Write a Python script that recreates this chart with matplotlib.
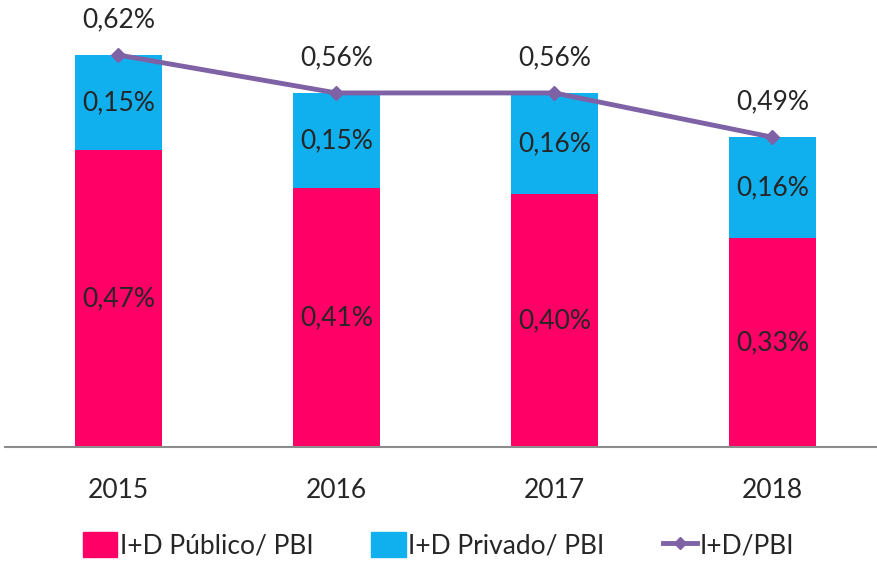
import matplotlib.pyplot as plt
from matplotlib.patches import Patch
from matplotlib.lines import Line2D

plt.rcParams['font.family'] = ['Lato', 'DejaVu Sans']

years = ['2015', '2016', '2017', '2018']
publico = [0.47, 0.41, 0.40, 0.33]
privado = [0.15, 0.15, 0.16, 0.16]
total = [0.62, 0.56, 0.56, 0.49]

pink = '#FF0066'
blue = '#10B0EE'
purple = '#7F62A6'
txt = '#262626'

def pct(v):
    return f"{v:.2f}".replace('.', ',') + '%'

fig = plt.figure(figsize=(8.77, 5.62), dpi=100)
ax = fig.add_axes([5/877, 115/562, 872/877, 447/562])

x = list(range(len(years)))
ax.bar(x, publico, width=0.4, color=pink)
ax.bar(x, privado, width=0.4, bottom=publico, color=blue)
ax.plot(x, total, color=purple, lw=3.5, marker='D', ms=7)

for i in x:
    ax.text(i, publico[i] / 2, pct(publico[i]), ha='center', va='center', fontsize=19, color=txt)
    ax.text(i, publico[i] + privado[i] / 2, pct(privado[i]), ha='center', va='center', fontsize=19, color=txt)
    ax.annotate(pct(total[i]), (i, total[i]), xytext=(0, 35), textcoords='offset pixels',
                ha='center', va='center', fontsize=19, color=txt)

ax.set_xlim(-0.52, 3.48)
ax.set_ylim(0, 0.707)
ax.set_xticks(x)
ax.set_xticklabels(years, fontsize=19, color=txt)
ax.tick_params(axis='x', length=0, pad=22)
ax.set_yticks([])
for s in ['top', 'right', 'left']:
    ax.spines[s].set_visible(False)
ax.spines['bottom'].set_color('#8C8C8C')
ax.spines['bottom'].set_linewidth(1.5)

handles = [Patch(color=pink), Patch(color=blue),
           Line2D([], [], color=purple, lw=3.5, marker='D', ms=6)]
labels = ['I+D Público/ PBI', 'I+D Privado/ PBI', 'I+D/PBI']
fig.legend(handles, labels, loc='center', bbox_to_anchor=(0.5, 17/562), ncol=3, frameon=False,
           fontsize=19, labelcolor=txt, handlelength=1.3, handleheight=1.1,
           handletextpad=0.1, columnspacing=2.2)

fig.savefig('out.png', dpi=100)
